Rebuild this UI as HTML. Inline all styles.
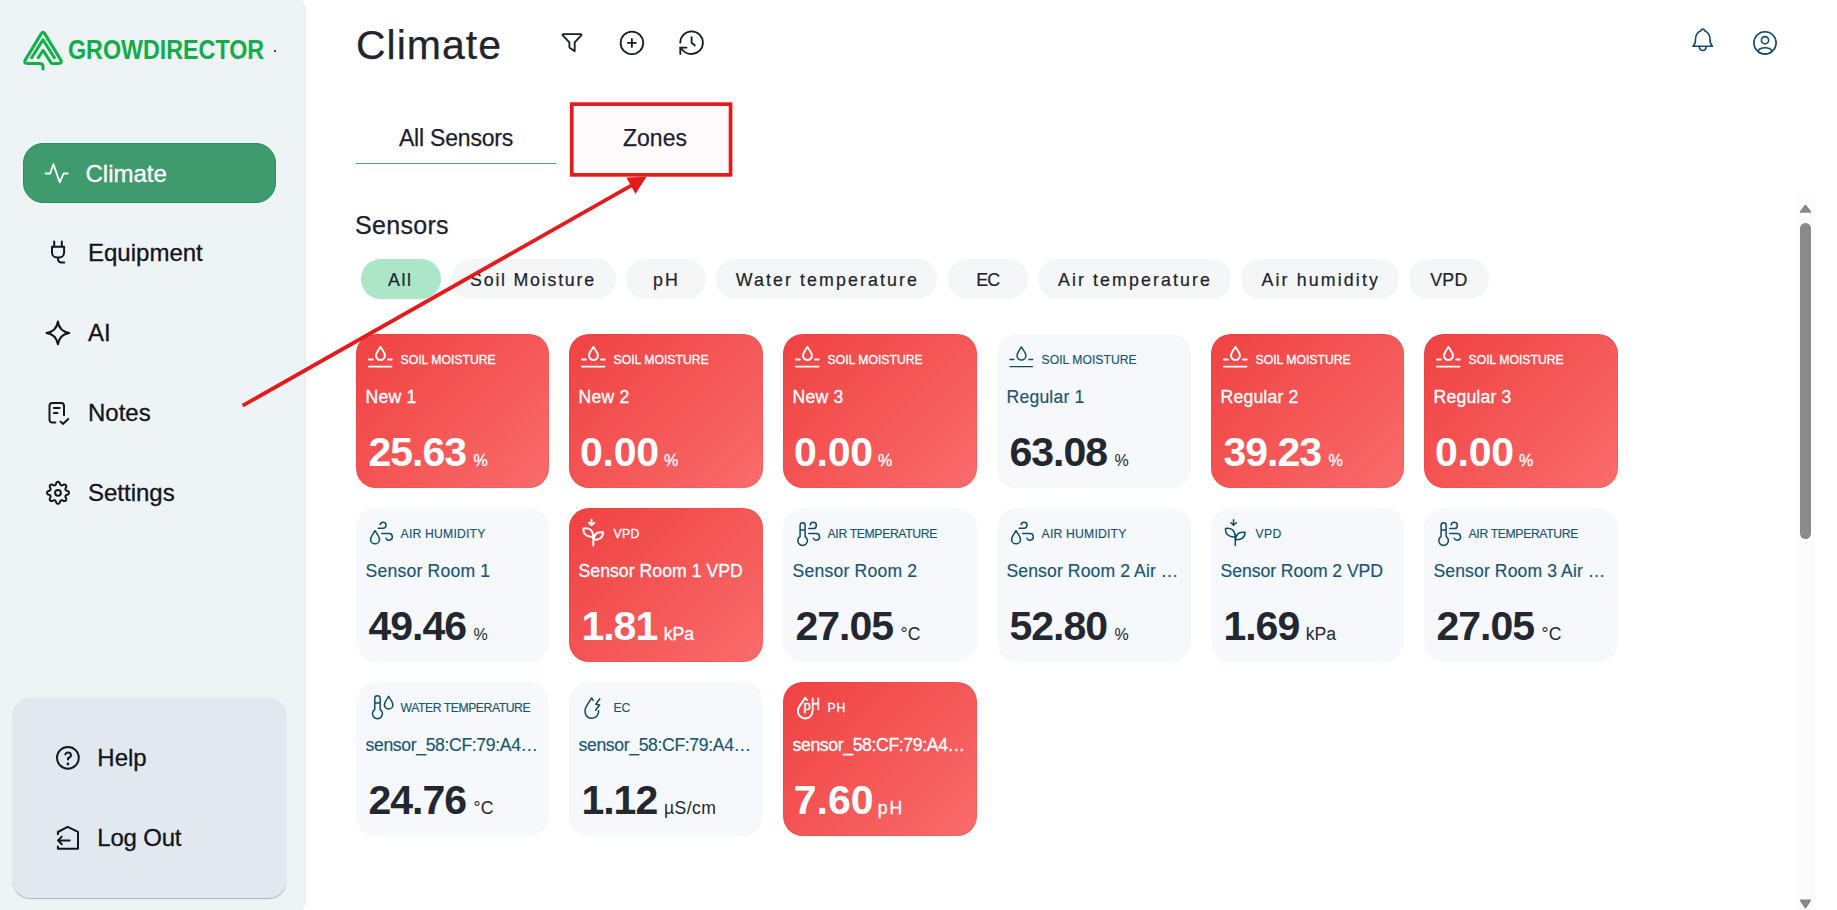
<!DOCTYPE html>
<html lang="en">
<head>
<meta charset="utf-8">
<title>Climate - GrowDirector</title>
<style>
*{box-sizing:border-box;margin:0;padding:0}
html,body{width:1837px;height:910px;overflow:hidden;background:#fff}
body{font-family:"Liberation Sans",sans-serif;color:#1b1f2a;position:relative}
svg{display:block;overflow:visible}
.abs{position:absolute}

/* ---------- sidebar ---------- */
#side{position:absolute;left:0;top:-4.5px;width:306px;height:919px;background:#eef3f6;border-radius:0 15.5px 15.5px 0;box-shadow:inset -1px 0 0 #eaeef3}
#side>*{margin-top:4.5px}
#logo{position:absolute;left:18px;top:25px;width:50px;height:50px}
#brand{position:absolute;left:68px;top:34px;height:32px;line-height:32px;font-size:27px;font-weight:700;color:#10ad4a;white-space:nowrap;transform-origin:0 50%;transform:scaleX(.862);letter-spacing:0}
#dot{position:absolute;left:274.3px;top:49.8px;width:2px;height:2px;background:#3a5a60}
#nav-climate{position:absolute;left:23px;top:143px;width:253px;height:60px;border-radius:20px;background:#3f9a6e;border:1px solid #219357}
.nav{position:absolute;left:0;width:305px;height:40px}
.nav svg{position:absolute}
.nav span{position:absolute;top:0;height:40px;line-height:40px;font-size:24px;white-space:nowrap;color:#12141c;-webkit-text-stroke:.3px currentColor}
#helpbox{position:absolute;left:13px;top:698px;width:273px;height:200px;border-radius:17px;background:#e1e8f0;box-shadow:0 1px 1px rgba(0,0,0,.26)}

/* ---------- header ---------- */
#title{position:absolute;left:356px;top:20.3px;height:50px;line-height:50px;font-size:41px;color:#212529;white-space:nowrap;letter-spacing:1px;-webkit-text-stroke:.25px #212529}
.tab{position:absolute;top:117.9px;height:40px;line-height:40px;font-size:23px;color:#1c2030;white-space:nowrap;text-align:center;-webkit-text-stroke:.25px #1c2030}
#tabline{position:absolute;left:356px;top:163px;width:200px;height:1px;background:#55a581}
#h2{position:absolute;left:355px;top:206px;height:38px;line-height:38px;font-size:25px;color:#1c2030;white-space:nowrap;letter-spacing:.3px;-webkit-text-stroke:.25px #1c2030}

/* ---------- chips ---------- */
.chip{position:absolute;top:259px;height:39.5px;line-height:42.3px;border-radius:20px;background:#f5f6f7;color:#20232d;font-size:17.8px;text-align:left;white-space:nowrap;-webkit-text-stroke:.2px #20232d}
.chip.on{background:#abe6c8}

/* ---------- cards ---------- */
.card{position:absolute;width:193.7px;height:154px;border-radius:20px;background:#f6f8fc;color:#175571}
.card .ic{color:#0f4b68}
.card.red .ic{color:#fff;stroke-width:1.95px}
.card.red{background:linear-gradient(135deg,#f04242 0%,#f55656 50%,#f96c6c 100%);color:#fff;box-shadow:inset 0 0 0 1px rgba(238,30,30,.13)}
.card .ic{position:absolute;left:0;top:0;width:48px;height:48px}
.card .lb{position:absolute;left:44.6px;top:16.7px;height:18px;line-height:18px;font-size:12.2px;white-space:nowrap;text-transform:uppercase;letter-spacing:-.15px}
.card .nm{position:absolute;left:9.5px;top:50.7px;width:184px;height:24px;line-height:24px;font-size:17.6px;white-space:nowrap;overflow:hidden;text-overflow:ellipsis;letter-spacing:.2px}
.card .lb,.card .nm{-webkit-text-stroke:.15px currentColor}
.card.red .lb,.card.red .nm,.card.red .vl i{-webkit-text-stroke:.3px #fff}
.card .vl{position:absolute;left:12.4px;top:93.9px;height:48px;line-height:48px;font-size:41px;white-space:nowrap;color:#23272f}
.card.red .vl{color:#fff}
.card .vl b{font-size:41px;font-weight:700;letter-spacing:-1px}
.card .vl i{font-style:normal;font-size:17.6px;margin-left:7.6px}
.card .vl i.pc{font-size:16px}
</style>
</head>
<body>

<!-- SIDEBAR -->
<div id="side">
  <svg id="logo" viewBox="18 25 50 50" width="50" height="50" fill="none" stroke="#12b04b" stroke-width="3" stroke-linejoin="round" stroke-linecap="butt">
    <path d="M43 70.2 V66.6 Q43 63.5 39.8 63.5 H27.4 Q23.1 63.5 25.3 59.9 L41.3 33.6 Q43 30.8 44.7 33.6 L60.7 59.9 Q62.9 63.5 58.6 63.5 H52.6 Q51.6 63.5 51 62.6 L43 50.4 L37.6 58.7"/>
    <path d="M31 58.7 L43 39.8 L55 58.7"/>
  </svg>
  <div id="brand">GROWDIRECTOR</div>
  <div id="dot"></div>

  <div id="nav-climate"></div>
  <div class="nav" style="top:154px"><span style="left:85.5px;color:#fff">Climate</span></div>
  <div class="nav" style="top:233px"><span style="left:88px">Equipment</span></div>
  <div class="nav" style="top:313px"><span style="left:88px">AI</span></div>
  <div class="nav" style="top:393px"><span style="left:88px">Notes</span></div>
  <div class="nav" style="top:473px"><span style="left:88px">Settings</span></div>

  <div id="helpbox"></div>

  <svg class="abs" style="left:0;top:0" width="306" height="910" viewBox="0 0 306 910" fill="none" stroke="#14161d" stroke-width="2" stroke-linecap="round" stroke-linejoin="round">
    <path stroke="#fff" stroke-width="1.8" d="M45.6 173.5 H50.2 L53.4 164.2 L59.8 182.4 L63.6 173.5 H67.6"/>
    <path d="M54.2 241.6 V246.8 M61.8 241.6 V246.8 M52 246.8 H64.1 V252.5 a5 5 0 0 1 -5 5 H57 a5 5 0 0 1 -5 -5 Z M58 257.6 v1.6 a3.4 3.4 0 0 0 3.4 3.4 H64.3"/>
    <path d="M57.9 321.5 C58.9 328.5 62.3 331.9 69.3 332.9 C62.3 333.9 58.9 337.3 57.9 344.3 C56.9 337.3 53.5 333.9 46.5 332.9 C53.5 331.9 56.9 328.5 57.9 321.5 Z"/>
    <path d="M55.4 422.5 H52.3 a2.8 2.8 0 0 1 -2.8 -2.8 V405.8 a2.8 2.8 0 0 1 2.8 -2.8 H61.2 a2.8 2.8 0 0 1 2.8 2.8 V415.2 M53.9 407.9 H59.6 M53.9 412.9 H57.5 M60.5 421.6 L62.9 423.9 L68.2 418.9"/>
    <path d="M58.00 481.80 L58.19 481.81 L58.38 481.85 L58.57 481.91 L58.76 481.99 L58.94 482.10 L59.11 482.24 L59.28 482.39 L59.44 482.57 L59.59 482.77 L59.73 483.01 L59.84 483.31 L59.93 483.72 L60.04 483.98 L60.14 484.21 L60.25 484.41 L60.35 484.59 L60.46 484.75 L60.57 484.89 L60.68 485.02 L60.79 485.13 L60.91 485.22 L61.04 485.29 L61.17 485.34 L61.30 485.38 L61.45 485.40 L61.61 485.40 L61.77 485.39 L61.95 485.37 L62.14 485.33 L62.34 485.28 L62.56 485.21 L62.80 485.13 L63.06 485.01 L63.41 484.79 L63.70 484.66 L63.97 484.59 L64.22 484.55 L64.46 484.54 L64.69 484.54 L64.90 484.57 L65.11 484.63 L65.30 484.70 L65.47 484.79 L65.63 484.89 L65.78 485.02 L65.91 485.17 L66.01 485.33 L66.10 485.50 L66.17 485.69 L66.23 485.90 L66.26 486.11 L66.26 486.34 L66.25 486.58 L66.21 486.83 L66.14 487.10 L66.01 487.39 L65.79 487.74 L65.67 488.00 L65.59 488.24 L65.52 488.46 L65.47 488.66 L65.43 488.85 L65.41 489.03 L65.40 489.19 L65.40 489.35 L65.42 489.50 L65.46 489.63 L65.51 489.76 L65.58 489.89 L65.67 490.01 L65.78 490.12 L65.91 490.23 L66.05 490.34 L66.21 490.45 L66.39 490.55 L66.59 490.66 L66.82 490.76 L67.08 490.87 L67.49 490.96 L67.79 491.07 L68.03 491.21 L68.23 491.36 L68.41 491.52 L68.56 491.69 L68.70 491.86 L68.81 492.04 L68.89 492.23 L68.95 492.42 L68.99 492.61 L69.00 492.80 L68.99 492.99 L68.95 493.18 L68.89 493.37 L68.81 493.56 L68.70 493.74 L68.56 493.91 L68.41 494.08 L68.23 494.24 L68.03 494.39 L67.79 494.53 L67.49 494.64 L67.08 494.73 L66.82 494.84 L66.59 494.94 L66.39 495.05 L66.21 495.15 L66.05 495.26 L65.91 495.37 L65.78 495.48 L65.67 495.59 L65.58 495.71 L65.51 495.84 L65.46 495.97 L65.42 496.10 L65.40 496.25 L65.40 496.41 L65.41 496.57 L65.43 496.75 L65.47 496.94 L65.52 497.14 L65.59 497.36 L65.67 497.60 L65.79 497.86 L66.01 498.21 L66.14 498.50 L66.21 498.77 L66.25 499.02 L66.26 499.26 L66.26 499.49 L66.23 499.70 L66.17 499.91 L66.10 500.10 L66.01 500.27 L65.91 500.43 L65.78 500.58 L65.63 500.71 L65.47 500.81 L65.30 500.90 L65.11 500.97 L64.90 501.03 L64.69 501.06 L64.46 501.06 L64.22 501.05 L63.97 501.01 L63.70 500.94 L63.41 500.81 L63.06 500.59 L62.80 500.47 L62.56 500.39 L62.34 500.32 L62.14 500.27 L61.95 500.23 L61.77 500.21 L61.61 500.20 L61.45 500.20 L61.30 500.22 L61.17 500.26 L61.04 500.31 L60.91 500.38 L60.79 500.47 L60.68 500.58 L60.57 500.71 L60.46 500.85 L60.35 501.01 L60.25 501.19 L60.14 501.39 L60.04 501.62 L59.93 501.88 L59.84 502.29 L59.73 502.59 L59.59 502.83 L59.44 503.03 L59.28 503.21 L59.11 503.36 L58.94 503.50 L58.76 503.61 L58.57 503.69 L58.38 503.75 L58.19 503.79 L58.00 503.80 L57.81 503.79 L57.62 503.75 L57.43 503.69 L57.24 503.61 L57.06 503.50 L56.89 503.36 L56.72 503.21 L56.56 503.03 L56.41 502.83 L56.27 502.59 L56.16 502.29 L56.07 501.88 L55.96 501.62 L55.86 501.39 L55.75 501.19 L55.65 501.01 L55.54 500.85 L55.43 500.71 L55.32 500.58 L55.21 500.47 L55.09 500.38 L54.96 500.31 L54.83 500.26 L54.70 500.22 L54.55 500.20 L54.39 500.20 L54.23 500.21 L54.05 500.23 L53.86 500.27 L53.66 500.32 L53.44 500.39 L53.20 500.47 L52.94 500.59 L52.59 500.81 L52.30 500.94 L52.03 501.01 L51.78 501.05 L51.54 501.06 L51.31 501.06 L51.10 501.03 L50.89 500.97 L50.70 500.90 L50.53 500.81 L50.37 500.71 L50.22 500.58 L50.09 500.43 L49.99 500.27 L49.90 500.10 L49.83 499.91 L49.77 499.70 L49.74 499.49 L49.74 499.26 L49.75 499.02 L49.79 498.77 L49.86 498.50 L49.99 498.21 L50.21 497.86 L50.33 497.60 L50.41 497.36 L50.48 497.14 L50.53 496.94 L50.57 496.75 L50.59 496.57 L50.60 496.41 L50.60 496.25 L50.58 496.10 L50.54 495.97 L50.49 495.84 L50.42 495.71 L50.33 495.59 L50.22 495.48 L50.09 495.37 L49.95 495.26 L49.79 495.15 L49.61 495.05 L49.41 494.94 L49.18 494.84 L48.92 494.73 L48.51 494.64 L48.21 494.53 L47.97 494.39 L47.77 494.24 L47.59 494.08 L47.44 493.91 L47.30 493.74 L47.19 493.56 L47.11 493.37 L47.05 493.18 L47.01 492.99 L47.00 492.80 L47.01 492.61 L47.05 492.42 L47.11 492.23 L47.19 492.04 L47.30 491.86 L47.44 491.69 L47.59 491.52 L47.77 491.36 L47.97 491.21 L48.21 491.07 L48.51 490.96 L48.92 490.87 L49.18 490.76 L49.41 490.66 L49.61 490.55 L49.79 490.45 L49.95 490.34 L50.09 490.23 L50.22 490.12 L50.33 490.01 L50.42 489.89 L50.49 489.76 L50.54 489.63 L50.58 489.50 L50.60 489.35 L50.60 489.19 L50.59 489.03 L50.57 488.85 L50.53 488.66 L50.48 488.46 L50.41 488.24 L50.33 488.00 L50.21 487.74 L49.99 487.39 L49.86 487.10 L49.79 486.83 L49.75 486.58 L49.74 486.34 L49.74 486.11 L49.77 485.90 L49.83 485.69 L49.90 485.50 L49.99 485.33 L50.09 485.17 L50.22 485.02 L50.37 484.89 L50.53 484.79 L50.70 484.70 L50.89 484.63 L51.10 484.57 L51.31 484.54 L51.54 484.54 L51.78 484.55 L52.03 484.59 L52.30 484.66 L52.59 484.79 L52.94 485.01 L53.20 485.13 L53.44 485.21 L53.66 485.28 L53.86 485.33 L54.05 485.37 L54.23 485.39 L54.39 485.40 L54.55 485.40 L54.70 485.38 L54.83 485.34 L54.96 485.29 L55.09 485.22 L55.21 485.13 L55.32 485.02 L55.43 484.89 L55.54 484.75 L55.65 484.59 L55.75 484.41 L55.86 484.21 L55.96 483.98 L56.07 483.72 L56.16 483.31 L56.27 483.01 L56.41 482.77 L56.56 482.57 L56.72 482.39 L56.89 482.24 L57.06 482.10 L57.24 481.99 L57.43 481.91 L57.62 481.85 L57.81 481.81 Z"/>
    <circle cx="58" cy="492.8" r="2.9"/>
    <circle cx="67.9" cy="757.8" r="10.9"/>
    <path d="M65.3 754.4 a2.9 2.9 0 0 1 5.65 .95 c0 1.95 -2.95 2.9 -2.95 2.9 v1.2"/>
    <circle cx="67.9" cy="764" r="1.4" fill="#14161d" stroke="none"/>
    <path d="M57.9 834.2 V832 L67.7 826.8 L78 831.9 V848.8 H57.9 V846.6 M69.6 840.4 H58 M61.8 836.6 L58 840.4 L61.8 844.2"/>
  </svg>
  <div class="nav" style="top:738px"><span style="left:97.3px">Help</span></div>
  <div class="nav" style="top:818px"><span style="left:97.3px;letter-spacing:-.2px">Log Out</span></div>
</div>

<!-- HEADER -->

<svg class="abs" style="left:540px;top:20px" width="200" height="50" viewBox="540 20 200 50" fill="none" stroke="#1a1d25" stroke-width="1.8" stroke-linecap="round" stroke-linejoin="round">
  <path d="M563.3 34.2 H580.7 a.7 .7 0 0 1 .5 1.2 L574.7 42.4 V51.2 L569.4 47.5 V42.4 L562.8 35.4 a.7 .7 0 0 1 .5 -1.2 Z"/>
  <circle cx="631.9" cy="42.9" r="11.3"/>
  <path d="M627.9 42.9 H635.9 M631.9 38.9 V46.9"/>
  <g transform="translate(676.53,27.63) scale(1.256)" stroke-width="1.43">
    <path d="M3 12a9 9 0 1 1 9 9 9.75 9.75 0 0 1-6.74-2.74L3 16"/>
    <path d="M3 21v-5h5"/>
    <path d="M12 7.5v4.5l2.6 2.2"/>
  </g>
</svg>
<svg class="abs" style="left:1680px;top:20px" width="110" height="50" viewBox="1680 20 110 50" fill="none" stroke="#0f4a67" stroke-width="1.6" stroke-linecap="round" stroke-linejoin="round">
  <path d="M1693 46.3 C1694.8 44.6 1695.5 42.4 1695.5 39.5 C1695.5 34.8 1697.3 32 1700.9 30.7 C1701.1 29.6 1701.8 29.1 1702.75 29.1 C1703.7 29.1 1704.4 29.6 1704.6 30.7 C1708.2 32 1710 34.8 1710 39.5 C1710 42.4 1710.7 44.6 1712.5 46.3 Z"/>
  <path d="M1699.3 46.8 a3.5 4.4 0 0 0 6.9 0"/>
  <circle cx="1765" cy="42.9" r="11.1"/>
  <circle cx="1765" cy="40.2" r="3.6"/>
  <ellipse cx="1765" cy="50.9" rx="6.8" ry="3.1"/>
</svg>
<div id="title">Climate</div>

<svg class="abs" style="left:560px;top:95px" width="190" height="90" viewBox="560 95 190 90"><rect x="571.75" y="104.15" width="158.8" height="70.7" fill="#fffbfc" stroke="#e41a1c" stroke-width="3.7"/></svg>
<div class="tab" style="left:356px;width:200px;letter-spacing:-.2px">All Sensors</div>
<div id="tabline"></div>
<div class="tab" style="left:570px;width:170px">Zones</div>

<div id="h2">Sensors</div>

<!-- CHIPS -->
<div class="chip on" style="left:361px;width:80px;padding-left:27.1px;letter-spacing:1.6px">All</div>
<div class="chip" style="left:451.3px;width:164.7px;padding-left:18.8px;letter-spacing:1.77px">Soil Moisture</div>
<div class="chip" style="left:626.2px;width:80px;padding-left:26.9px;letter-spacing:2.0px">pH</div>
<div class="chip" style="left:716.3px;width:221.1px;padding-left:19.4px;letter-spacing:2.1px">Water temperature</div>
<div class="chip" style="left:948.4px;width:80px;padding-left:27.9px;letter-spacing:-1.0px">EC</div>
<div class="chip" style="left:1038px;width:193px;padding-left:20.0px;letter-spacing:2.09px">Air temperature</div>
<div class="chip" style="left:1241px;width:158px;padding-left:20.5px;letter-spacing:2.14px">Air humidity</div>
<div class="chip" style="left:1409.1px;width:80px;padding-left:21.2px;letter-spacing:0.2px">VPD</div>

<!-- CARDS -->
<div class="card red" style="left:356px;top:334px;width:193px"><svg class="ic" viewBox="0 0 48 48" width="48" height="48" fill="none" stroke="currentColor" stroke-width="1.45" stroke-linecap="round" stroke-linejoin="round"><path d="M24.4 12.9 C23 15.6 20 18.3 20 21.6 A4.45 4.45 0 0 0 28.9 21.6 C28.9 18.3 25.8 15.6 24.4 12.9 Z"/><path d="M13 25.5 H16.8 M32 25.5 H35.7 M13 32.6 H35.5"/></svg><div class="lb" style="letter-spacing:0px">SOIL MOISTURE</div><div class="nm">New 1</div><div class="vl"><b>25.63</b><i class="pc">%</i></div></div>
<div class="card red" style="left:569px;top:334px;width:194px"><svg class="ic" viewBox="0 0 48 48" width="48" height="48" fill="none" stroke="currentColor" stroke-width="1.45" stroke-linecap="round" stroke-linejoin="round"><path d="M24.4 12.9 C23 15.6 20 18.3 20 21.6 A4.45 4.45 0 0 0 28.9 21.6 C28.9 18.3 25.8 15.6 24.4 12.9 Z"/><path d="M13 25.5 H16.8 M32 25.5 H35.7 M13 32.6 H35.5"/></svg><div class="lb" style="letter-spacing:0px">SOIL MOISTURE</div><div class="nm">New 2</div><div class="vl" style="margin-left:-1.5px"><b style="letter-spacing:-.2px">0.00</b><i class="pc" style="margin-left:5.2px">%</i></div></div>
<div class="card red" style="left:783px;top:334px;width:194px"><svg class="ic" viewBox="0 0 48 48" width="48" height="48" fill="none" stroke="currentColor" stroke-width="1.45" stroke-linecap="round" stroke-linejoin="round"><path d="M24.4 12.9 C23 15.6 20 18.3 20 21.6 A4.45 4.45 0 0 0 28.9 21.6 C28.9 18.3 25.8 15.6 24.4 12.9 Z"/><path d="M13 25.5 H16.8 M32 25.5 H35.7 M13 32.6 H35.5"/></svg><div class="lb" style="letter-spacing:0px">SOIL MOISTURE</div><div class="nm">New 3</div><div class="vl" style="margin-left:-1.5px"><b style="letter-spacing:-.2px">0.00</b><i class="pc" style="margin-left:5.2px">%</i></div></div>
<div class="card" style="left:997px;top:334px;width:194px"><svg class="ic" viewBox="0 0 48 48" width="48" height="48" fill="none" stroke="currentColor" stroke-width="1.45" stroke-linecap="round" stroke-linejoin="round"><path d="M24.4 12.9 C23 15.6 20 18.3 20 21.6 A4.45 4.45 0 0 0 28.9 21.6 C28.9 18.3 25.8 15.6 24.4 12.9 Z"/><path d="M13 25.5 H16.8 M32 25.5 H35.7 M13 32.6 H35.5"/></svg><div class="lb" style="letter-spacing:0px">SOIL MOISTURE</div><div class="nm">Regular 1</div><div class="vl"><b>63.08</b><i class="pc">%</i></div></div>
<div class="card red" style="left:1211px;top:334px;width:193px"><svg class="ic" viewBox="0 0 48 48" width="48" height="48" fill="none" stroke="currentColor" stroke-width="1.45" stroke-linecap="round" stroke-linejoin="round"><path d="M24.4 12.9 C23 15.6 20 18.3 20 21.6 A4.45 4.45 0 0 0 28.9 21.6 C28.9 18.3 25.8 15.6 24.4 12.9 Z"/><path d="M13 25.5 H16.8 M32 25.5 H35.7 M13 32.6 H35.5"/></svg><div class="lb" style="letter-spacing:0px">SOIL MOISTURE</div><div class="nm">Regular 2</div><div class="vl"><b>39.23</b><i class="pc">%</i></div></div>
<div class="card red" style="left:1424px;top:334px;width:194px"><svg class="ic" viewBox="0 0 48 48" width="48" height="48" fill="none" stroke="currentColor" stroke-width="1.45" stroke-linecap="round" stroke-linejoin="round"><path d="M24.4 12.9 C23 15.6 20 18.3 20 21.6 A4.45 4.45 0 0 0 28.9 21.6 C28.9 18.3 25.8 15.6 24.4 12.9 Z"/><path d="M13 25.5 H16.8 M32 25.5 H35.7 M13 32.6 H35.5"/></svg><div class="lb" style="letter-spacing:0px">SOIL MOISTURE</div><div class="nm">Regular 3</div><div class="vl" style="margin-left:-1.5px"><b style="letter-spacing:-.2px">0.00</b><i class="pc" style="margin-left:5.2px">%</i></div></div>
<div class="card" style="left:356px;top:508px;width:193px"><svg class="ic" viewBox="0 0 48 48" width="48" height="48" fill="none" stroke="currentColor" stroke-width="1.5" stroke-linecap="round" stroke-linejoin="round"><path d="M19 22.7 C17.5 25.5 14.6 28.4 14.6 31.4 A4.45 4.45 0 0 0 23.5 31.4 C23.5 28.4 20.5 25.5 19 22.7 Z"/><path d="M22.2 20.2 H27 A3 3 0 1 0 24.1 16.5"/><path d="M25.7 25.6 H33 A3.3 3.3 0 1 1 30 30.2"/></svg><div class="lb" style="letter-spacing:0.2px">AIR HUMIDITY</div><div class="nm">Sensor Room 1</div><div class="vl"><b>49.46</b><i class="pc">%</i></div></div>
<div class="card red" style="left:569px;top:508px;width:194px"><svg class="ic" viewBox="0 0 48 48" width="48" height="48" fill="none" stroke="currentColor" stroke-width="1.5" stroke-linecap="round" stroke-linejoin="round"><path d="M22.5 11.7 V17 M19.9 14.8 L22.5 17.3 L25.3 14.8"/><path d="M24.3 37.6 V27"/><path d="M14.6 20.4 C19.6 19.4 24 21.8 24.3 28.8 C18.2 29.4 13.8 26.3 14.6 20.4 Z"/><path d="M34 24.3 C29 23.6 25 25.5 24.4 31.6 C30 32.4 34.3 29.5 34 24.3 Z"/></svg><div class="lb" style="letter-spacing:0.35px">VPD</div><div class="nm" style="letter-spacing:0.06px">Sensor Room 1 VPD</div><div class="vl"><b>1.81</b><i class="un" style="margin-left:6.6px">kPa</i></div></div>
<div class="card" style="left:783px;top:508px;width:194px"><svg class="ic" viewBox="0 0 48 48" width="48" height="48" fill="none" stroke="currentColor" stroke-width="1.5" stroke-linecap="round" stroke-linejoin="round"><path d="M17.1 28.5 V17.3 a2.5 2.5 0 0 1 5 0 V28.5 a4.8 4.8 0 1 1 -5 0 Z M17.1 22 H22.1"/><path d="M25.8 20.5 H30.2 A3.1 3.1 0 1 0 27.2 17"/><path d="M25.8 25.5 H33.2 A3.3 3.3 0 1 1 30.3 30.2"/></svg><div class="lb" style="letter-spacing:-0.35px">AIR TEMPERATURE</div><div class="nm">Sensor Room 2</div><div class="vl"><b>27.05</b><i class="un">°C</i></div></div>
<div class="card" style="left:997px;top:508px;width:194px"><svg class="ic" viewBox="0 0 48 48" width="48" height="48" fill="none" stroke="currentColor" stroke-width="1.5" stroke-linecap="round" stroke-linejoin="round"><path d="M19 22.7 C17.5 25.5 14.6 28.4 14.6 31.4 A4.45 4.45 0 0 0 23.5 31.4 C23.5 28.4 20.5 25.5 19 22.7 Z"/><path d="M22.2 20.2 H27 A3 3 0 1 0 24.1 16.5"/><path d="M25.7 25.6 H33 A3.3 3.3 0 1 1 30 30.2"/></svg><div class="lb" style="letter-spacing:0.2px">AIR HUMIDITY</div><div class="nm" style="letter-spacing:0.1px">Sensor Room 2 Air …</div><div class="vl"><b>52.80</b><i class="pc">%</i></div></div>
<div class="card" style="left:1211px;top:508px;width:193px"><svg class="ic" viewBox="0 0 48 48" width="48" height="48" fill="none" stroke="currentColor" stroke-width="1.5" stroke-linecap="round" stroke-linejoin="round"><path d="M22.5 11.7 V17 M19.9 14.8 L22.5 17.3 L25.3 14.8"/><path d="M24.3 37.6 V27"/><path d="M14.6 20.4 C19.6 19.4 24 21.8 24.3 28.8 C18.2 29.4 13.8 26.3 14.6 20.4 Z"/><path d="M34 24.3 C29 23.6 25 25.5 24.4 31.6 C30 32.4 34.3 29.5 34 24.3 Z"/></svg><div class="lb" style="letter-spacing:0.35px">VPD</div><div class="nm" style="letter-spacing:-0.05px">Sensor Room 2 VPD</div><div class="vl"><b>1.69</b><i class="un" style="margin-left:6.6px">kPa</i></div></div>
<div class="card" style="left:1424px;top:508px;width:194px"><svg class="ic" viewBox="0 0 48 48" width="48" height="48" fill="none" stroke="currentColor" stroke-width="1.5" stroke-linecap="round" stroke-linejoin="round"><path d="M17.1 28.5 V17.3 a2.5 2.5 0 0 1 5 0 V28.5 a4.8 4.8 0 1 1 -5 0 Z M17.1 22 H22.1"/><path d="M25.8 20.5 H30.2 A3.1 3.1 0 1 0 27.2 17"/><path d="M25.8 25.5 H33.2 A3.3 3.3 0 1 1 30.3 30.2"/></svg><div class="lb" style="letter-spacing:-0.35px">AIR TEMPERATURE</div><div class="nm" style="letter-spacing:0.1px">Sensor Room 3 Air …</div><div class="vl"><b>27.05</b><i class="un">°C</i></div></div>
<div class="card" style="left:356px;top:682px;width:193px"><svg class="ic" viewBox="0 0 48 48" width="48" height="48" fill="none" stroke="currentColor" stroke-width="1.5" stroke-linecap="round" stroke-linejoin="round"><path d="M18.75 27.5 V16.4 a2.7 2.7 0 0 1 5.4 0 V27.5 a5 5 0 1 1 -5.4 0 Z M18.75 21.1 H24.15"/><path d="M32.6 14.4 C31.2 17 28.4 19.8 28.4 22.7 A4.25 4.25 0 0 0 36.9 22.7 C36.9 19.8 34 17 32.6 14.4 Z"/></svg><div class="lb" style="letter-spacing:-0.44px">WATER TEMPERATURE</div><div class="nm" style="letter-spacing:-0.35px">sensor_58:CF:79:A4…</div><div class="vl"><b>24.76</b><i class="un">°C</i></div></div>
<div class="card" style="left:569px;top:682px;width:194px"><svg class="ic" viewBox="0 0 48 48" width="48" height="48" fill="none" stroke="currentColor" stroke-width="1.5" stroke-linecap="round" stroke-linejoin="round"><path d="M24.2 18.4 L22.6 16 L17.2 24.6 C16.3 26.2 16 27.8 16 29.6 A6.8 6.8 0 1 0 29.5 28.4"/><path d="M30.8 16.8 L26.8 22.2 L30.6 23 L26.6 28.2"/></svg><div class="lb" style="letter-spacing:-0.15px">EC</div><div class="nm" style="letter-spacing:-0.35px">sensor_58:CF:79:A4…</div><div class="vl"><b>1.12</b><i class="un" style="letter-spacing:.45px;margin-left:6.8px">µS/cm</i></div></div>
<div class="card red" style="left:783px;top:682px;width:194px"><svg class="ic" viewBox="0 0 48 48" width="48" height="48" fill="none" stroke="currentColor" stroke-width="1.5" stroke-linecap="round" stroke-linejoin="round"><path d="M24 18 L22.2 15.7 L16.3 24.6 C15.3 26.2 14.9 27.8 14.9 29.5 A7.3 7.3 0 1 0 29.5 28.8"/><text x="20.6" y="27.9" font-family="Liberation Sans,sans-serif" font-size="13" fill="currentColor" stroke="currentColor" stroke-width=".45">p</text><text transform="translate(28.3,27.9) scale(.72,1)" font-family="Liberation Sans,sans-serif" font-size="16.5" fill="currentColor" stroke="currentColor" stroke-width=".45">H</text></svg><div class="lb" style="letter-spacing:0.9px">PH</div><div class="nm" style="letter-spacing:-0.35px">sensor_58:CF:79:A4…</div><div class="vl" style="margin-left:-1.6px"><b style="letter-spacing:0">7.60</b><i class="un" style="letter-spacing:2px;margin-left:4.2px">pH</i></div></div>
<!-- /CARDS -->


<!-- ANNOTATION -->
<svg class="abs" style="left:0;top:0;pointer-events:none" width="1837" height="910" viewBox="0 0 1837 910">
  <line x1="242.6" y1="405.7" x2="632" y2="185.1" stroke="#e41a1c" stroke-width="3.8"/>
  <polygon points="626.4,177.6 646.5,176.7 635.5,193.9" fill="#e41a1c"/>
</svg>

<!-- SCROLLBAR -->
<div class="abs" style="left:1796px;top:194px;width:19px;height:716px;background:#fcfcfc"></div>
<div class="abs" style="left:1800px;top:223px;width:10.8px;height:316px;border-radius:5.4px;background:#8b8b8b"></div>
<svg class="abs" style="left:1796px;top:194px" width="19" height="716" viewBox="1796 194 19 716">
  <path d="M1805.45 205.6 L1810.2 211.9 H1800.7 Z" fill="#8b8b8b" stroke="#858585" stroke-width="1.8" stroke-linejoin="round"/>
  <path d="M1805.45 907.4 L1810.2 900.3 H1800.7 Z" fill="#8b8b8b" stroke="#858585" stroke-width="1.8" stroke-linejoin="round"/>
</svg>

</body>
</html>
